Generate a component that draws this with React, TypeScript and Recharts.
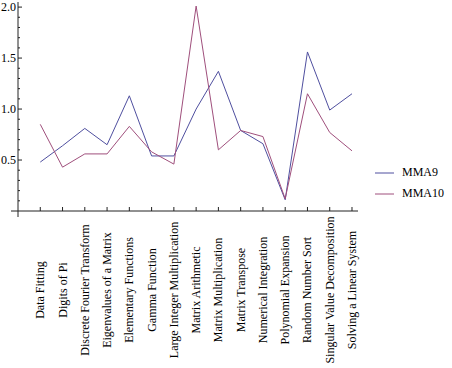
import React from "react";
import { LineChart, Line, XAxis, YAxis } from "recharts";

const categories = [
  "Data Fitting",
  "Digits of Pi",
  "Discrete Fourier Transform",
  "Eigenvalues of a Matrix",
  "Elementary Functions",
  "Gamma Function",
  "Large Integer Multiplication",
  "Matrix Arithmetic",
  "Matrix Multiplication",
  "Matrix Transpose",
  "Numerical Integration",
  "Polynomial Expansion",
  "Random Number Sort",
  "Singular Value Decomposition",
  "Solving a Linear System",
];

const mma9 = [0.48, 0.64, 0.81, 0.65, 1.13, 0.54, 0.54, 1.0, 1.37, 0.79, 0.66, 0.11, 1.56, 0.99, 1.15];
const mma10 = [0.85, 0.43, 0.56, 0.56, 0.83, 0.58, 0.46, 2.01, 0.6, 0.79, 0.73, 0.12, 1.15, 0.77, 0.59];

const yTicks = [0, 0.1, 0.2, 0.3, 0.4, 0.5, 0.6, 0.7, 0.8, 0.9, 1.0, 1.1, 1.2, 1.3, 1.4, 1.5, 1.6, 1.7, 1.8, 1.9, 2.0];
const xTicks = categories.map((_, i) => i + 1);

const data = categories.map((name, i) => ({ pos: i + 1, name, MMA9: mma9[i], MMA10: mma10[i] }));

const BLUE = "#4f4f9f";
const PURPLE = "#9f4f7c";
const AXIS = "#222";
const FONT = "'Liberation Serif', 'Times New Roman', serif";

const XTick = (props: any) => {
  const { x, y, payload } = props;
  const label = categories[payload.value - 1] ?? "";
  return (
    <g>
      <line x1={x} y1={y - 4} x2={x} y2={y} stroke={AXIS} strokeWidth={1} />
      <text
        x={x + 4}
        y={y + 79}
        transform={`rotate(-90, ${x + 4}, ${y + 79})`}
        textAnchor="middle"
        fontSize={12}
        style={{ fontFamily: FONT }}
        fill="#000"
      >
        {label}
      </text>
    </g>
  );
};

const YTick = (props: any) => {
  const { x, y, payload } = props;
  const v = Math.round(payload.value * 10) / 10;
  if (v === 0) {
    return (
      <g>
        <line x1={x - 7} y1={y} x2={x} y2={y} stroke={AXIS} strokeWidth={1} />
        <line x1={x} y1={y} x2={x} y2={y + 6} stroke={AXIS} strokeWidth={1} />
      </g>
    );
  }
  const major = Math.abs(v * 2 - Math.round(v * 2)) < 1e-6;
  return (
    <g>
      <line x1={x} y1={y} x2={x + (major ? 4 : 2)} y2={y} stroke={AXIS} strokeWidth={1} />
      {major && (
        <text x={x - 2} y={y + 4} textAnchor="end" fontSize={12} style={{ fontFamily: FONT }} fill="#000">
          {v.toFixed(1)}
        </text>
      )}
    </g>
  );
};

const LegendBox = () => (
  <div style={{ position: "absolute", left: 372, top: 162, fontFamily: FONT, fontSize: 12, color: "#000" }}>
    {[
      ["MMA9", BLUE],
      ["MMA10", PURPLE],
    ].map(([name, c]) => (
      <div key={name} style={{ display: "flex", alignItems: "center", height: 21 }}>
        <svg width={30} height={4}>
          <line x1={3} y1={2} x2={22} y2={2} stroke={c} strokeWidth={1} />
        </svg>
        <span>{name}</span>
      </div>
    ))}
  </div>
);

export default function App() {
  return (
    <div style={{ position: "absolute", left: 0, top: 0, width: 452, height: 368, background: "#fff" }}>
      <LineChart width={452} height={368} data={data} margin={{ top: 2, right: 94, left: 0, bottom: 0 }}>
        <XAxis
          dataKey="pos"
          type="number"
          domain={[0, 15.27]}
          ticks={xTicks}
          interval={0}
          height={157}
          tickSize={0}
          tickMargin={0}
          tickLine={false}
          tick={<XTick />}
          stroke={AXIS}
          allowDataOverflow
        />
        <YAxis
          type="number"
          domain={[0, 2.05]}
          ticks={yTicks}
          interval={0}
          width={18}
          tickSize={0}
          tickMargin={0}
          tickLine={false}
          tick={<YTick />}
          stroke={AXIS}
          allowDataOverflow
        />
        <Line type="linear" dataKey="MMA9" stroke={BLUE} strokeWidth={1} dot={false} isAnimationActive={false} />
        <Line type="linear" dataKey="MMA10" stroke={PURPLE} strokeWidth={1} dot={false} isAnimationActive={false} />
      </LineChart>
      <LegendBox />
    </div>
  );
}
